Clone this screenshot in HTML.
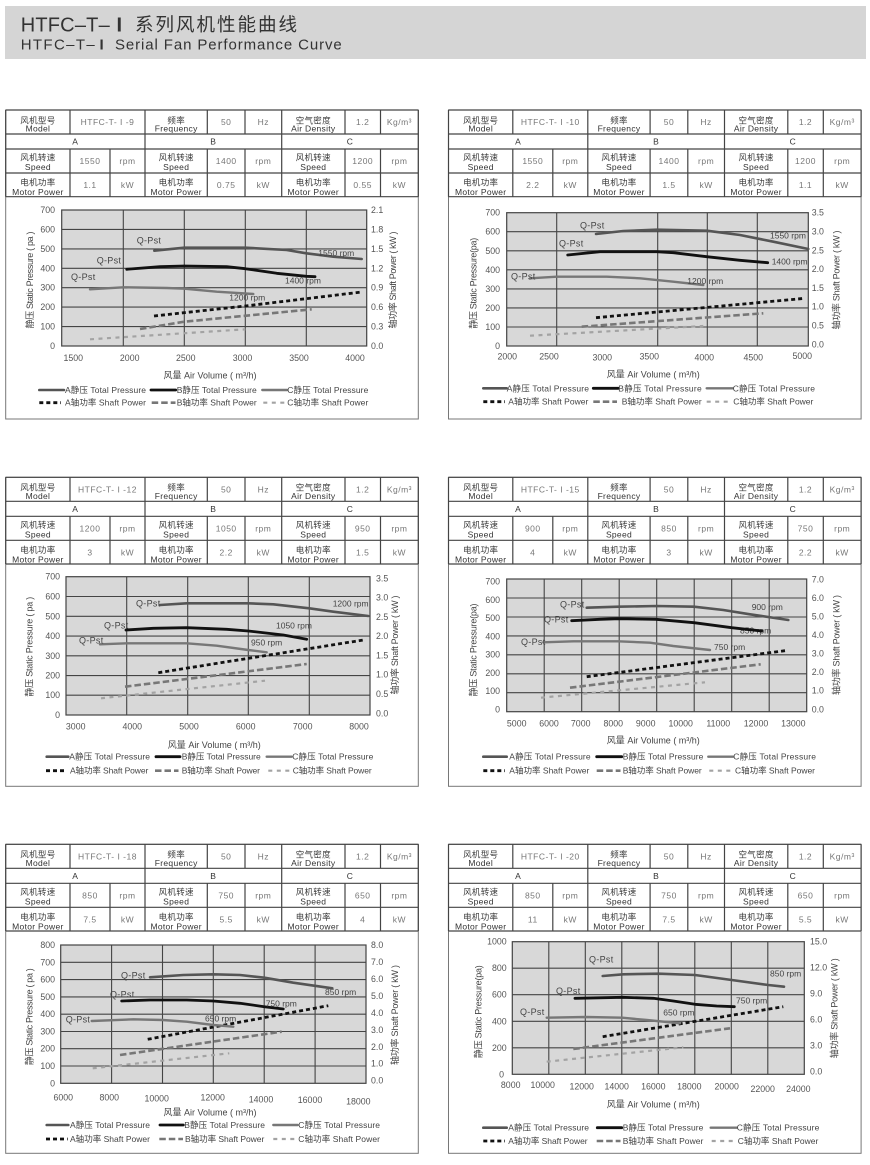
<!DOCTYPE html>
<html><head><meta charset="utf-8">
<style>
html,body{margin:0;padding:0;background:#fff;}
svg{display:block}
svg text{font-family:"Liberation Sans","Noto Sans CJK SC",sans-serif;}
.cn{font-size:8.5px;fill:#3a3a3a;text-anchor:middle;letter-spacing:.3px}
.en{font-size:8.5px;fill:#333;text-anchor:middle;letter-spacing:.3px}
.v{font-size:8.5px;fill:#777;text-anchor:middle;letter-spacing:.5px}
.tl{font-size:8.8px;fill:#555;text-anchor:end}
.tr{font-size:8.8px;fill:#555}
.tx{font-size:8.8px;fill:#555;text-anchor:middle}
.at{font-size:9px;fill:#444;text-anchor:middle}
.lg{font-size:8.5px;fill:#444}
.ql{font-size:9px;fill:#444;letter-spacing:.3px}
.rp{font-size:8.5px;fill:#444}
.grid{stroke:#444;stroke-width:1.1;fill:none}
.plot{fill:#d8d8d8;stroke:#444;stroke-width:1.2}
.tb{stroke:#444;stroke-width:1.2;fill:none}
.box{stroke:#777;stroke-width:1;fill:none}
.cA{stroke:#555;stroke-width:2.6;fill:none;stroke-linecap:round;stroke-linejoin:round}
.cB{stroke:#111;stroke-width:2.8;fill:none;stroke-linecap:round;stroke-linejoin:round}
.cC{stroke:#777;stroke-width:2.4;fill:none;stroke-linecap:round;stroke-linejoin:round}
.sA{stroke:#111;stroke-width:2.8;fill:none;stroke-dasharray:4 3}
.sB{stroke:#777;stroke-width:2.6;fill:none;stroke-dasharray:6.5 3}
.sC{stroke:#a3a3a3;stroke-width:2.2;fill:none;stroke-dasharray:4 4.5}
</style></head>
<body>
<svg width="870" height="1165" viewBox="0 0 870 1165" xmlns="http://www.w3.org/2000/svg">
<!-- Header -->
<rect x="5" y="6" width="861" height="53" fill="#d5d5d5"/>
<text x="20.7" y="31.5" font-size="20" fill="#333" textLength="89" lengthAdjust="spacing">HTFC–T–</text>
<text x="116.5" y="31.5" font-size="20" font-weight="bold" fill="#333">I</text>
<text x="135" y="31" font-size="18.5" fill="#333" textLength="162" lengthAdjust="spacing">系列风机性能曲线</text>
<text x="20.7" y="49.3" font-size="15" fill="#333" textLength="74" lengthAdjust="spacing">HTFC–T–</text>
<text x="99.5" y="49.3" font-size="15" font-weight="bold" fill="#333">I</text>
<text x="115" y="49.3" font-size="15" fill="#333" textLength="226.7" lengthAdjust="spacing">Serial  Fan Performance Curve</text>

<!-- Panel 1 table -->
<g transform="translate(0,110)">
<rect class="box" x="5.7" y="0" width="412.6" height="309"/>
<path class="tb" d="M5.7 0H418.3M5.7 24H418.3M5.7 39H418.3M5.7 63H418.3M5.7 86.7H418.3M70 0V24M70 39V86.7M110 39V86.7M145 0V86.7M207.3 0V24M207.3 39V86.7M245 0V24M245 39V86.7M281.7 0V86.7M345 0V24M345 39V86.7M380.5 0V24M380.5 39V86.7M5.7 0V86.7M418.3 0V86.7"/>
<text class="cn" x="37.9" y="13.3">风机型号</text><text class="en" x="37.9" y="21.5">Model</text>
<text class="v" x="107.5" y="15">HTFC-T- I -9</text>
<text class="cn" x="176.2" y="13.3">频率</text><text class="en" x="176.2" y="21.5">Frequency</text>
<text class="v" x="226.2" y="15">50</text><text class="v" x="263.3" y="15">Hz</text>
<text class="cn" x="313.3" y="13.3">空气密度</text><text class="en" x="313.3" y="21.5">Air Density</text>
<text class="v" x="362.7" y="15">1.2</text><text class="v" x="399.4" y="15">Kg/m³</text>
<text class="en" x="75.3" y="34.5">A</text><text class="en" x="213.3" y="34.5">B</text><text class="en" x="350" y="34.5">C</text>
<text class="cn" x="37.9" y="50.6">风机转速</text><text class="en" x="37.9" y="60">Speed</text>
<text class="v" x="90" y="54">1550</text><text class="v" x="127.5" y="54">rpm</text>
<text class="cn" x="176.2" y="50.6">风机转速</text><text class="en" x="176.2" y="60">Speed</text>
<text class="v" x="226.2" y="54">1400</text><text class="v" x="263.3" y="54">rpm</text>
<text class="cn" x="313.3" y="50.6">风机转速</text><text class="en" x="313.3" y="60">Speed</text>
<text class="v" x="362.7" y="54">1200</text><text class="v" x="399.4" y="54">rpm</text>
<text class="cn" x="37.9" y="75.6">电机功率</text><text class="en" x="37.9" y="85">Motor Power</text>
<text class="v" x="90" y="78">1.1</text><text class="v" x="127.5" y="78">kW</text>
<text class="cn" x="176.2" y="75.6">电机功率</text><text class="en" x="176.2" y="85">Motor Power</text>
<text class="v" x="226.2" y="78">0.75</text><text class="v" x="263.3" y="78">kW</text>
<text class="cn" x="313.3" y="75.6">电机功率</text><text class="en" x="313.3" y="85">Motor Power</text>
<text class="v" x="362.7" y="78">0.55</text><text class="v" x="399.4" y="78">kW</text>
</g>

<!-- Panel 2 table -->
<g transform="translate(442.8,110)">
<rect class="box" x="5.7" y="0" width="412.6" height="309"/>
<path class="tb" d="M5.7 0H418.3M5.7 24H418.3M5.7 39H418.3M5.7 63H418.3M5.7 86.7H418.3M70 0V24M70 39V86.7M110 39V86.7M145 0V86.7M207.3 0V24M207.3 39V86.7M245 0V24M245 39V86.7M281.7 0V86.7M345 0V24M345 39V86.7M380.5 0V24M380.5 39V86.7M5.7 0V86.7M418.3 0V86.7"/>
<text class="cn" x="37.9" y="13.3">风机型号</text><text class="en" x="37.9" y="21.5">Model</text>
<text class="v" x="107.5" y="15">HTFC-T- I -10</text>
<text class="cn" x="176.2" y="13.3">频率</text><text class="en" x="176.2" y="21.5">Frequency</text>
<text class="v" x="226.2" y="15">50</text><text class="v" x="263.3" y="15">Hz</text>
<text class="cn" x="313.3" y="13.3">空气密度</text><text class="en" x="313.3" y="21.5">Air Density</text>
<text class="v" x="362.7" y="15">1.2</text><text class="v" x="399.4" y="15">Kg/m³</text>
<text class="en" x="75.3" y="34.5">A</text><text class="en" x="213.3" y="34.5">B</text><text class="en" x="350" y="34.5">C</text>
<text class="cn" x="37.9" y="50.6">风机转速</text><text class="en" x="37.9" y="60">Speed</text>
<text class="v" x="90" y="54">1550</text><text class="v" x="127.5" y="54">rpm</text>
<text class="cn" x="176.2" y="50.6">风机转速</text><text class="en" x="176.2" y="60">Speed</text>
<text class="v" x="226.2" y="54">1400</text><text class="v" x="263.3" y="54">rpm</text>
<text class="cn" x="313.3" y="50.6">风机转速</text><text class="en" x="313.3" y="60">Speed</text>
<text class="v" x="362.7" y="54">1200</text><text class="v" x="399.4" y="54">rpm</text>
<text class="cn" x="37.9" y="75.6">电机功率</text><text class="en" x="37.9" y="85">Motor Power</text>
<text class="v" x="90" y="78">2.2</text><text class="v" x="127.5" y="78">kW</text>
<text class="cn" x="176.2" y="75.6">电机功率</text><text class="en" x="176.2" y="85">Motor Power</text>
<text class="v" x="226.2" y="78">1.5</text><text class="v" x="263.3" y="78">kW</text>
<text class="cn" x="313.3" y="75.6">电机功率</text><text class="en" x="313.3" y="85">Motor Power</text>
<text class="v" x="362.7" y="78">1.1</text><text class="v" x="399.4" y="78">kW</text>
</g>

<!-- Panel 3 table -->
<g transform="translate(0,477.3)">
<rect class="box" x="5.7" y="0" width="412.6" height="309"/>
<path class="tb" d="M5.7 0H418.3M5.7 24H418.3M5.7 39H418.3M5.7 63H418.3M5.7 86.7H418.3M70 0V24M70 39V86.7M110 39V86.7M145 0V86.7M207.3 0V24M207.3 39V86.7M245 0V24M245 39V86.7M281.7 0V86.7M345 0V24M345 39V86.7M380.5 0V24M380.5 39V86.7M5.7 0V86.7M418.3 0V86.7"/>
<text class="cn" x="37.9" y="13.3">风机型号</text><text class="en" x="37.9" y="21.5">Model</text>
<text class="v" x="107.5" y="15">HTFC-T- I -12</text>
<text class="cn" x="176.2" y="13.3">频率</text><text class="en" x="176.2" y="21.5">Frequency</text>
<text class="v" x="226.2" y="15">50</text><text class="v" x="263.3" y="15">Hz</text>
<text class="cn" x="313.3" y="13.3">空气密度</text><text class="en" x="313.3" y="21.5">Air Density</text>
<text class="v" x="362.7" y="15">1.2</text><text class="v" x="399.4" y="15">Kg/m³</text>
<text class="en" x="75.3" y="34.5">A</text><text class="en" x="213.3" y="34.5">B</text><text class="en" x="350" y="34.5">C</text>
<text class="cn" x="37.9" y="50.6">风机转速</text><text class="en" x="37.9" y="60">Speed</text>
<text class="v" x="90" y="54">1200</text><text class="v" x="127.5" y="54">rpm</text>
<text class="cn" x="176.2" y="50.6">风机转速</text><text class="en" x="176.2" y="60">Speed</text>
<text class="v" x="226.2" y="54">1050</text><text class="v" x="263.3" y="54">rpm</text>
<text class="cn" x="313.3" y="50.6">风机转速</text><text class="en" x="313.3" y="60">Speed</text>
<text class="v" x="362.7" y="54">950</text><text class="v" x="399.4" y="54">rpm</text>
<text class="cn" x="37.9" y="75.6">电机功率</text><text class="en" x="37.9" y="85">Motor Power</text>
<text class="v" x="90" y="78">3</text><text class="v" x="127.5" y="78">kW</text>
<text class="cn" x="176.2" y="75.6">电机功率</text><text class="en" x="176.2" y="85">Motor Power</text>
<text class="v" x="226.2" y="78">2.2</text><text class="v" x="263.3" y="78">kW</text>
<text class="cn" x="313.3" y="75.6">电机功率</text><text class="en" x="313.3" y="85">Motor Power</text>
<text class="v" x="362.7" y="78">1.5</text><text class="v" x="399.4" y="78">kW</text>
</g>

<!-- Panel 4 table -->
<g transform="translate(442.8,477.3)">
<rect class="box" x="5.7" y="0" width="412.6" height="309"/>
<path class="tb" d="M5.7 0H418.3M5.7 24H418.3M5.7 39H418.3M5.7 63H418.3M5.7 86.7H418.3M70 0V24M70 39V86.7M110 39V86.7M145 0V86.7M207.3 0V24M207.3 39V86.7M245 0V24M245 39V86.7M281.7 0V86.7M345 0V24M345 39V86.7M380.5 0V24M380.5 39V86.7M5.7 0V86.7M418.3 0V86.7"/>
<text class="cn" x="37.9" y="13.3">风机型号</text><text class="en" x="37.9" y="21.5">Model</text>
<text class="v" x="107.5" y="15">HTFC-T- I -15</text>
<text class="cn" x="176.2" y="13.3">频率</text><text class="en" x="176.2" y="21.5">Frequency</text>
<text class="v" x="226.2" y="15">50</text><text class="v" x="263.3" y="15">Hz</text>
<text class="cn" x="313.3" y="13.3">空气密度</text><text class="en" x="313.3" y="21.5">Air Density</text>
<text class="v" x="362.7" y="15">1.2</text><text class="v" x="399.4" y="15">Kg/m³</text>
<text class="en" x="75.3" y="34.5">A</text><text class="en" x="213.3" y="34.5">B</text><text class="en" x="350" y="34.5">C</text>
<text class="cn" x="37.9" y="50.6">风机转速</text><text class="en" x="37.9" y="60">Speed</text>
<text class="v" x="90" y="54">900</text><text class="v" x="127.5" y="54">rpm</text>
<text class="cn" x="176.2" y="50.6">风机转速</text><text class="en" x="176.2" y="60">Speed</text>
<text class="v" x="226.2" y="54">850</text><text class="v" x="263.3" y="54">rpm</text>
<text class="cn" x="313.3" y="50.6">风机转速</text><text class="en" x="313.3" y="60">Speed</text>
<text class="v" x="362.7" y="54">750</text><text class="v" x="399.4" y="54">rpm</text>
<text class="cn" x="37.9" y="75.6">电机功率</text><text class="en" x="37.9" y="85">Motor Power</text>
<text class="v" x="90" y="78">4</text><text class="v" x="127.5" y="78">kW</text>
<text class="cn" x="176.2" y="75.6">电机功率</text><text class="en" x="176.2" y="85">Motor Power</text>
<text class="v" x="226.2" y="78">3</text><text class="v" x="263.3" y="78">kW</text>
<text class="cn" x="313.3" y="75.6">电机功率</text><text class="en" x="313.3" y="85">Motor Power</text>
<text class="v" x="362.7" y="78">2.2</text><text class="v" x="399.4" y="78">kW</text>
</g>

<!-- Panel 5 table -->
<g transform="translate(0,844.3)">
<rect class="box" x="5.7" y="0" width="412.6" height="309"/>
<path class="tb" d="M5.7 0H418.3M5.7 24H418.3M5.7 39H418.3M5.7 63H418.3M5.7 86.7H418.3M70 0V24M70 39V86.7M110 39V86.7M145 0V86.7M207.3 0V24M207.3 39V86.7M245 0V24M245 39V86.7M281.7 0V86.7M345 0V24M345 39V86.7M380.5 0V24M380.5 39V86.7M5.7 0V86.7M418.3 0V86.7"/>
<text class="cn" x="37.9" y="13.3">风机型号</text><text class="en" x="37.9" y="21.5">Model</text>
<text class="v" x="107.5" y="15">HTFC-T- I -18</text>
<text class="cn" x="176.2" y="13.3">频率</text><text class="en" x="176.2" y="21.5">Frequency</text>
<text class="v" x="226.2" y="15">50</text><text class="v" x="263.3" y="15">Hz</text>
<text class="cn" x="313.3" y="13.3">空气密度</text><text class="en" x="313.3" y="21.5">Air Density</text>
<text class="v" x="362.7" y="15">1.2</text><text class="v" x="399.4" y="15">Kg/m³</text>
<text class="en" x="75.3" y="34.5">A</text><text class="en" x="213.3" y="34.5">B</text><text class="en" x="350" y="34.5">C</text>
<text class="cn" x="37.9" y="50.6">风机转速</text><text class="en" x="37.9" y="60">Speed</text>
<text class="v" x="90" y="54">850</text><text class="v" x="127.5" y="54">rpm</text>
<text class="cn" x="176.2" y="50.6">风机转速</text><text class="en" x="176.2" y="60">Speed</text>
<text class="v" x="226.2" y="54">750</text><text class="v" x="263.3" y="54">rpm</text>
<text class="cn" x="313.3" y="50.6">风机转速</text><text class="en" x="313.3" y="60">Speed</text>
<text class="v" x="362.7" y="54">650</text><text class="v" x="399.4" y="54">rpm</text>
<text class="cn" x="37.9" y="75.6">电机功率</text><text class="en" x="37.9" y="85">Motor Power</text>
<text class="v" x="90" y="78">7.5</text><text class="v" x="127.5" y="78">kW</text>
<text class="cn" x="176.2" y="75.6">电机功率</text><text class="en" x="176.2" y="85">Motor Power</text>
<text class="v" x="226.2" y="78">5.5</text><text class="v" x="263.3" y="78">kW</text>
<text class="cn" x="313.3" y="75.6">电机功率</text><text class="en" x="313.3" y="85">Motor Power</text>
<text class="v" x="362.7" y="78">4</text><text class="v" x="399.4" y="78">kW</text>
</g>

<!-- Panel 6 table -->
<g transform="translate(442.8,844.3)">
<rect class="box" x="5.7" y="0" width="412.6" height="309"/>
<path class="tb" d="M5.7 0H418.3M5.7 24H418.3M5.7 39H418.3M5.7 63H418.3M5.7 86.7H418.3M70 0V24M70 39V86.7M110 39V86.7M145 0V86.7M207.3 0V24M207.3 39V86.7M245 0V24M245 39V86.7M281.7 0V86.7M345 0V24M345 39V86.7M380.5 0V24M380.5 39V86.7M5.7 0V86.7M418.3 0V86.7"/>
<text class="cn" x="37.9" y="13.3">风机型号</text><text class="en" x="37.9" y="21.5">Model</text>
<text class="v" x="107.5" y="15">HTFC-T- I -20</text>
<text class="cn" x="176.2" y="13.3">频率</text><text class="en" x="176.2" y="21.5">Frequency</text>
<text class="v" x="226.2" y="15">50</text><text class="v" x="263.3" y="15">Hz</text>
<text class="cn" x="313.3" y="13.3">空气密度</text><text class="en" x="313.3" y="21.5">Air Density</text>
<text class="v" x="362.7" y="15">1.2</text><text class="v" x="399.4" y="15">Kg/m³</text>
<text class="en" x="75.3" y="34.5">A</text><text class="en" x="213.3" y="34.5">B</text><text class="en" x="350" y="34.5">C</text>
<text class="cn" x="37.9" y="50.6">风机转速</text><text class="en" x="37.9" y="60">Speed</text>
<text class="v" x="90" y="54">850</text><text class="v" x="127.5" y="54">rpm</text>
<text class="cn" x="176.2" y="50.6">风机转速</text><text class="en" x="176.2" y="60">Speed</text>
<text class="v" x="226.2" y="54">750</text><text class="v" x="263.3" y="54">rpm</text>
<text class="cn" x="313.3" y="50.6">风机转速</text><text class="en" x="313.3" y="60">Speed</text>
<text class="v" x="362.7" y="54">650</text><text class="v" x="399.4" y="54">rpm</text>
<text class="cn" x="37.9" y="75.6">电机功率</text><text class="en" x="37.9" y="85">Motor Power</text>
<text class="v" x="90" y="78">11</text><text class="v" x="127.5" y="78">kW</text>
<text class="cn" x="176.2" y="75.6">电机功率</text><text class="en" x="176.2" y="85">Motor Power</text>
<text class="v" x="226.2" y="78">7.5</text><text class="v" x="263.3" y="78">kW</text>
<text class="cn" x="313.3" y="75.6">电机功率</text><text class="en" x="313.3" y="85">Motor Power</text>
<text class="v" x="362.7" y="78">5.5</text><text class="v" x="399.4" y="78">kW</text>
</g>

<!-- ===== CHART 1 ===== -->
<rect class="plot" x="61.7" y="210" width="305" height="136"/>
<path class="grid" d="M61.7 229.4H366.7M61.7 248.9H366.7M61.7 268.3H366.7M61.7 287.7H366.7M61.7 307.1H366.7M61.7 326.6H366.7M123.3 210V346M184.3 210V346M245.3 210V346M306.3 210V346"/>
<text class="tl" x="55" y="213">700</text><text class="tl" x="55" y="232.4">600</text><text class="tl" x="55" y="251.9">500</text><text class="tl" x="55" y="271.3">400</text><text class="tl" x="55" y="290.7">300</text><text class="tl" x="55" y="310.1">200</text><text class="tl" x="55" y="329.6">100</text><text class="tl" x="55" y="349">0</text>
<text class="tr" x="371" y="213">2.1</text><text class="tr" x="371" y="232.4">1.8</text><text class="tr" x="371" y="251.9">1.5</text><text class="tr" x="371" y="271.3">1.2</text><text class="tr" x="371" y="290.7">0.9</text><text class="tr" x="371" y="310.1">0.6</text><text class="tr" x="371" y="329.6">0.3</text><text class="tr" x="371" y="349">0.0</text>
<text class="tx" x="73.3" y="361">1500</text><text class="tx" x="129.7" y="361">2000</text><text class="tx" x="185.8" y="361">2500</text><text class="tx" x="242.5" y="361">3000</text><text class="tx" x="299" y="361">3500</text><text class="tx" x="355" y="361">4000</text>
<text class="at" x="210" y="378.7" textLength="93" lengthAdjust="spacing">风量 Air Volume ( m³/h)</text>
<text class="at" transform="translate(33,280) rotate(-90)" textLength="97" lengthAdjust="spacing">静压 Static Pressure ( pa )</text>
<text class="at" transform="translate(396,280) rotate(-90)" textLength="97" lengthAdjust="spacing">轴功率 Shaft Power ( kW )</text>
<polyline class="sC" points="90,339.3 245.3,329.3"/>
<polyline class="sB" points="140,329 184.3,321.7 311.7,309.3"/>
<polyline class="sA" points="154,316 245.3,306 361.7,292"/>
<polyline class="cC" points="90,289.3 123.3,287.3 166.7,288 184.3,288.7 216.7,291.7 253.3,294"/>
<polyline class="cB" points="126.7,269.3 160,266.7 184.3,266 226.7,266.7 245.3,268.7 276.7,273.3 306.3,276.3 315,276.7"/>
<polyline class="cA" points="154.3,250.7 184.3,247.7 245.3,247.7 286.7,250 306.3,253.3 333.3,256.7 361.7,259"/>
<text class="ql" x="136.7" y="243.3">Q-Pst</text><text class="ql" x="96.7" y="263.3">Q-Pst</text><text class="ql" x="71" y="280">Q-Pst</text>
<text class="rp" x="318.3" y="256">1550 rpm</text><text class="rp" x="285" y="283.3">1400 rpm</text><text class="rp" x="229.3" y="300.7">1200 rpm</text>
<line class="cA" x1="39.3" y1="390" x2="64" y2="390"/><text class="lg" x="65" y="393" textLength="81" lengthAdjust="spacing">A静压 Total Pressure</text>
<line class="cB" x1="151" y1="390" x2="175.7" y2="390"/><text class="lg" x="176.7" y="393" textLength="80" lengthAdjust="spacing">B静压 Total Pressure</text>
<line class="cC" x1="262.3" y1="390" x2="287.3" y2="390"/><text class="lg" x="287.3" y="393" textLength="81" lengthAdjust="spacing">C静压 Total Pressure</text>
<line class="sA" x1="39.3" y1="402.7" x2="61" y2="402.7"/><text class="lg" x="65" y="405.7" textLength="81" lengthAdjust="spacing">A轴功率 Shaft Power</text>
<line class="sB" x1="151.7" y1="402.7" x2="175.5" y2="402.7"/><text class="lg" x="176.7" y="405.7" textLength="80" lengthAdjust="spacing">B轴功率 Shaft Power</text>
<line class="sC" x1="263.3" y1="402.7" x2="285" y2="402.7"/><text class="lg" x="287.3" y="405.7" textLength="81" lengthAdjust="spacing">C轴功率 Shaft Power</text>

<!-- ===== CHART 2 ===== -->
<rect class="plot" x="506.7" y="212.7" width="301.6" height="133.3"/>
<path class="grid" d="M506.7 231.7H808.3M506.7 250.8H808.3M506.7 269.8H808.3M506.7 288.9H808.3M506.7 307.9H808.3M506.7 327H808.3M556.7 212.7V346M657.7 212.7V346M707.3 212.7V346M757.3 212.7V346"/>
<text class="tl" x="500" y="215.7">700</text><text class="tl" x="500" y="234.7">600</text><text class="tl" x="500" y="253.8">500</text><text class="tl" x="500" y="272.8">400</text><text class="tl" x="500" y="291.9">300</text><text class="tl" x="500" y="310.9">200</text><text class="tl" x="500" y="330">100</text><text class="tl" x="500" y="349">0</text>
<text class="tr" x="811.7" y="215.7">3.5</text><text class="tr" x="811.7" y="234.5">3.0</text><text class="tr" x="811.7" y="253.3">2.5</text><text class="tr" x="811.7" y="272.1">2.0</text><text class="tr" x="811.7" y="290.9">1.5</text><text class="tr" x="811.7" y="309.7">1.0</text><text class="tr" x="811.7" y="328.5">0.5</text><text class="tr" x="811.7" y="347.3">0.0</text>
<text class="tx" x="507.3" y="359.7">2000</text><text class="tx" x="549" y="359.7">2500</text><text class="tx" x="602.3" y="360.7">3000</text><text class="tx" x="649.3" y="359.7">3500</text><text class="tx" x="704.3" y="360.7">4000</text><text class="tx" x="753.3" y="360.7">4500</text><text class="tx" x="802.3" y="359">5000</text>
<text class="at" x="653.3" y="377.3" textLength="93" lengthAdjust="spacing">风量 Air Volume ( m³/h)</text>
<text class="at" transform="translate(476.3,283.3) rotate(-90)" textLength="91" lengthAdjust="spacing">静压 Static Pressure(pa)</text>
<text class="at" transform="translate(839.7,280) rotate(-90)" textLength="99" lengthAdjust="spacing">轴功率 Shaft Power ( kW )</text>
<polyline class="sC" points="530,335.7 703.3,326"/>
<polyline class="sB" points="581.7,326.7 763.3,313.3"/>
<polyline class="sA" points="596,317.7 805,298.3"/>
<polyline class="cC" points="530,278.3 556.7,276.7 606.7,276.7 640,278.3 673.3,281.7 703.3,285"/>
<polyline class="cB" points="567.7,255 600,251.7 656.7,251.7 673.3,252.7 706.7,256.7 740,260.3 767.7,262.7"/>
<polyline class="cA" points="596,234 623.3,231 656.7,229.7 706.7,230.7 740,235 773.3,241.7 808.3,249"/>
<text class="ql" x="580" y="228.3">Q-Pst</text><text class="ql" x="559" y="246.7">Q-Pst</text><text class="ql" x="511" y="279.3">Q-Pst</text>
<text class="rp" x="770" y="238.3">1550 rpm</text><text class="rp" x="771.7" y="264.3">1400 rpm</text><text class="rp" x="687.3" y="284">1200 rpm</text>
<line class="cA" x1="483.3" y1="388.3" x2="506.7" y2="388.3"/><text class="lg" x="506.7" y="391.3" textLength="82.3" lengthAdjust="spacing">A静压 Total Pressure</text>
<line class="cB" x1="593.3" y1="388.3" x2="618.3" y2="388.3"/><text class="lg" x="618.3" y="391.3" textLength="83.4" lengthAdjust="spacing">B静压 Total Pressure</text>
<line class="cC" x1="706.7" y1="388.3" x2="732.7" y2="388.3"/><text class="lg" x="732.7" y="391.3" textLength="82.3" lengthAdjust="spacing">C静压 Total Pressure</text>
<line class="sA" x1="483.3" y1="401.7" x2="505" y2="401.7"/><text class="lg" x="508.3" y="404.7" textLength="80" lengthAdjust="spacing">A轴功率 Shaft Power</text>
<line class="sB" x1="593.3" y1="401.7" x2="617" y2="401.7"/><text class="lg" x="621.7" y="404.7" textLength="80" lengthAdjust="spacing">B轴功率 Shaft Power</text>
<line class="sC" x1="706.7" y1="401.7" x2="728.3" y2="401.7"/><text class="lg" x="733.3" y="404.7" textLength="80" lengthAdjust="spacing">C轴功率 Shaft Power</text>

<!-- ===== CHART 3 ===== -->
<rect class="plot" x="66" y="576.7" width="304" height="138.3"/>
<path class="grid" d="M66 596.5H370M66 616.3H370M66 636.1H370M66 655.8H370M66 675.6H370M66 695.2H370M126.7 576.7V715M187.7 576.7V715M248.3 576.7V715M309.3 576.7V715"/>
<text class="tl" x="60" y="579.7">700</text><text class="tl" x="60" y="599.5">600</text><text class="tl" x="60" y="619.3">500</text><text class="tl" x="60" y="639.1">400</text><text class="tl" x="60" y="658.8">300</text><text class="tl" x="60" y="678.6">200</text><text class="tl" x="60" y="698.2">100</text><text class="tl" x="60" y="718">0</text>
<text class="tr" x="376" y="581.3">3.5</text><text class="tr" x="376" y="600.6">3.0</text><text class="tr" x="376" y="619.9">2.5</text><text class="tr" x="376" y="639.1">2.0</text><text class="tr" x="376" y="658.4">1.5</text><text class="tr" x="376" y="677.7">1.0</text><text class="tr" x="376" y="697">0.5</text><text class="tr" x="376" y="716.3">0.0</text>
<text class="tx" x="75.7" y="729.7">3000</text><text class="tx" x="132.3" y="729.7">4000</text><text class="tx" x="189" y="729.7">5000</text><text class="tx" x="245.7" y="729.7">6000</text><text class="tx" x="302.7" y="729.7">7000</text><text class="tx" x="359" y="729.7">8000</text>
<text class="at" x="214.3" y="748" textLength="93" lengthAdjust="spacing">风量 Air Volume ( m³/h)</text>
<text class="at" transform="translate(32.3,646.7) rotate(-90)" textLength="100" lengthAdjust="spacing">静压 Static Pressure ( pa )</text>
<text class="at" transform="translate(398,645) rotate(-90)" textLength="99" lengthAdjust="spacing">轴功率 Shaft Power ( kW )</text>
<polyline class="sC" points="101,698.3 265,680.7"/>
<polyline class="sB" points="125,686.7 306.7,664"/>
<polyline class="sA" points="158.3,672.7 363.3,640"/>
<polyline class="cC" points="100,644.3 126.7,643.3 186.7,643.3 216.7,645.7 248.3,650 266.7,652.3"/>
<polyline class="cB" points="126,630 153.3,628.3 186.7,627.7 226.7,629.3 248.3,631 283.3,635 306.7,639.3"/>
<polyline class="cA" points="160,605 186.7,603.3 248.3,603.3 273.3,604.3 309.3,608.3 333.3,611.7 368.3,616"/>
<text class="ql" x="136" y="606.7">Q-Pst</text><text class="ql" x="104" y="628.3">Q-Pst</text><text class="ql" x="79" y="643.3">Q-Pst</text>
<text class="rp" x="332.7" y="606.7">1200 rpm</text><text class="rp" x="276" y="628.3">1050 rpm</text><text class="rp" x="251" y="645.7">950 rpm</text>
<line class="cA" x1="46.7" y1="756.7" x2="68.3" y2="756.7"/><text class="lg" x="69.3" y="759.7" textLength="80.7" lengthAdjust="spacing">A静压 Total Pressure</text>
<line class="cB" x1="156" y1="756.7" x2="180" y2="756.7"/><text class="lg" x="181.7" y="759.7" textLength="79" lengthAdjust="spacing">B静压 Total Pressure</text>
<line class="cC" x1="266.7" y1="756.7" x2="291.7" y2="756.7"/><text class="lg" x="292.3" y="759.7" textLength="81" lengthAdjust="spacing">C静压 Total Pressure</text>
<line class="sA" x1="46" y1="770.7" x2="67" y2="770.7"/><text class="lg" x="70" y="773.7" textLength="78.3" lengthAdjust="spacing">A轴功率 Shaft Power</text>
<line class="sB" x1="155" y1="770.7" x2="178.5" y2="770.7"/><text class="lg" x="181.7" y="773.7" textLength="78.3" lengthAdjust="spacing">B轴功率 Shaft Power</text>
<line class="sC" x1="268.3" y1="770.7" x2="290" y2="770.7"/><text class="lg" x="292.7" y="773.7" textLength="79" lengthAdjust="spacing">C轴功率 Shaft Power</text>

<!-- ===== CHART 4 ===== -->
<rect class="plot" x="506.7" y="579" width="300" height="132.7"/>
<path class="grid" d="M506.7 598H806.7M506.7 617H806.7M506.7 635.9H806.7M506.7 654.8H806.7M506.7 673.8H806.7M506.7 692.7H806.7M544.2 579V711.7M581.7 579V711.7M619.2 579V711.7M656.7 579V711.7M694.2 579V711.7M731.7 579V711.7M769.2 579V711.7"/>
<text class="tl" x="500" y="584.7">700</text><text class="tl" x="500" y="602.9">600</text><text class="tl" x="500" y="621.2">500</text><text class="tl" x="500" y="639.4">400</text><text class="tl" x="500" y="657.7">300</text><text class="tl" x="500" y="675.9">200</text><text class="tl" x="500" y="694.1">100</text><text class="tl" x="500" y="712.3">0</text>
<text class="tr" x="811.7" y="582.3">7.0</text><text class="tr" x="811.7" y="600.9">6.0</text><text class="tr" x="811.7" y="619.4">5.0</text><text class="tr" x="811.7" y="638">4.0</text><text class="tr" x="811.7" y="656.6">3.0</text><text class="tr" x="811.7" y="675.1">2.0</text><text class="tr" x="811.7" y="693.7">1.0</text><text class="tr" x="811.7" y="712.3">0.0</text>
<text class="tx" x="516.7" y="726.3">5000</text><text class="tx" x="549" y="726.3">6000</text><text class="tx" x="580.7" y="726.3">7000</text><text class="tx" x="613.3" y="726.3">8000</text><text class="tx" x="645.7" y="726.3">9000</text><text class="tx" x="680.7" y="726.3">10000</text><text class="tx" x="718.3" y="726.3">11000</text><text class="tx" x="756" y="726.3">12000</text><text class="tx" x="793.3" y="726.3">13000</text>
<text class="at" x="653.3" y="743.7" textLength="93" lengthAdjust="spacing">风量 Air Volume ( m³/h)</text>
<text class="at" transform="translate(476.3,650) rotate(-90)" textLength="93" lengthAdjust="spacing">静压 Static Pressure(pa)</text>
<text class="at" transform="translate(839.7,645) rotate(-90)" textLength="100" lengthAdjust="spacing">轴功率 Shaft Power ( kW )</text>
<polyline class="sC" points="541,697.7 705,682.3"/>
<polyline class="sB" points="570,687.7 760.7,664.3"/>
<polyline class="sA" points="586.7,676.7 785,650.7"/>
<text class="rp" x="740" y="633.3">850 rpm</text>
<polyline class="cC" points="543.3,642.3 573.3,641.3 618.3,641.3 650,642.7 673.3,646 710,650"/>
<polyline class="cB" points="571.7,620.7 600,619.3 618.3,618.7 656,619.3 694,622.7 731.7,627.7 761.7,631"/>
<polyline class="cA" points="586.7,607.7 618.3,606.7 656.7,606 694,606.7 723.3,610 750,614.3 788.3,620"/>
<text class="ql" x="560" y="607.3">Q-Pst</text><text class="ql" x="544" y="622.3">Q-Pst</text><text class="ql" x="521" y="645">Q-Pst</text>
<text class="rp" x="751.7" y="610">900 rpm</text><text class="rp" x="714" y="650">750 rpm</text>
<line class="cA" x1="483.3" y1="756.7" x2="506.7" y2="756.7"/><text class="lg" x="509.3" y="759.7" textLength="81.3" lengthAdjust="spacing">A静压 Total Pressure</text>
<line class="cB" x1="596.7" y1="756.7" x2="621.7" y2="756.7"/><text class="lg" x="622.7" y="759.7" textLength="80.7" lengthAdjust="spacing">B静压 Total Pressure</text>
<line class="cC" x1="708.3" y1="756.7" x2="733.3" y2="756.7"/><text class="lg" x="733.3" y="759.7" textLength="82.7" lengthAdjust="spacing">C静压 Total Pressure</text>
<line class="sA" x1="483.3" y1="770.7" x2="505" y2="770.7"/><text class="lg" x="509.3" y="773.7" textLength="80" lengthAdjust="spacing">A轴功率 Shaft Power</text>
<line class="sB" x1="596.7" y1="770.7" x2="620.5" y2="770.7"/><text class="lg" x="622.7" y="773.7" textLength="79" lengthAdjust="spacing">B轴功率 Shaft Power</text>
<line class="sC" x1="709.3" y1="770.7" x2="731" y2="770.7"/><text class="lg" x="735" y="773.7" textLength="80" lengthAdjust="spacing">C轴功率 Shaft Power</text>

<!-- ===== CHART 5 ===== -->
<rect class="plot" x="60.7" y="945" width="305.3" height="138.3"/>
<path class="grid" d="M60.7 962.3H366M60.7 979.6H366M60.7 996.9H366M60.7 1014.2H366M60.7 1031.5H366M60.7 1048.7H366M60.7 1066H366M111.6 945V1083.3M162.5 945V1083.3M213.3 945V1083.3M264.2 945V1083.3M315.1 945V1083.3"/>
<text class="tl" x="55" y="948">800</text><text class="tl" x="55" y="965.3">700</text><text class="tl" x="55" y="982.6">600</text><text class="tl" x="55" y="999.9">500</text><text class="tl" x="55" y="1017.2">400</text><text class="tl" x="55" y="1034.5">300</text><text class="tl" x="55" y="1051.7">200</text><text class="tl" x="55" y="1069">100</text><text class="tl" x="55" y="1086.3">0</text>
<text class="tr" x="371" y="948">8.0</text><text class="tr" x="371" y="965">7.0</text><text class="tr" x="371" y="981.9">6.0</text><text class="tr" x="371" y="998.9">5.0</text><text class="tr" x="371" y="1015.8">4.0</text><text class="tr" x="371" y="1032.8">3.0</text><text class="tr" x="371" y="1049.8">2.0</text><text class="tr" x="371" y="1066.7">1.0</text><text class="tr" x="371" y="1083.7">0.0</text>
<text class="tx" x="63.3" y="1100.3">6000</text><text class="tx" x="109.3" y="1100.3">8000</text><text class="tx" x="156.7" y="1101.3">10000</text><text class="tx" x="212.7" y="1100.3">12000</text><text class="tx" x="261" y="1102.3">14000</text><text class="tx" x="310" y="1103">16000</text><text class="tx" x="358.3" y="1104.7">18000</text>
<text class="at" x="210" y="1115.3" textLength="93" lengthAdjust="spacing">风量 Air Volume ( m³/h)</text>
<text class="at" transform="translate(32.3,1016.7) rotate(-90)" textLength="97" lengthAdjust="spacing">静压 Static Pressure ( pa )</text>
<text class="at" transform="translate(398,1015) rotate(-90)" textLength="100" lengthAdjust="spacing">轴功率 Shaft Power ( kW )</text>
<polyline class="sC" points="92.7,1068.3 229.3,1053.3"/>
<polyline class="sB" points="120,1055 281.7,1031.7"/>
<polyline class="sA" points="147.7,1039.3 328.3,1005.7"/>
<polyline class="cC" points="91.7,1021 133.3,1019.3 162.7,1020 186.7,1021.7 213.3,1025 233.3,1026.7"/>
<polyline class="cB" points="121.7,1001 150,1000 186.7,1000 213.3,1001 240,1003.3 264.3,1006.7 283.3,1009"/>
<polyline class="cA" points="150,977.3 183.3,975 213.3,974.3 240,975 264.3,977.7 293.3,982.7 332.3,988.3"/>
<text class="ql" x="121" y="978.3">Q-Pst</text><text class="ql" x="110" y="997.3">Q-Pst</text><text class="ql" x="65.7" y="1022.3">Q-Pst</text>
<text class="rp" x="325" y="995">850 rpm</text><text class="rp" x="265.7" y="1006.7">750 rpm</text><text class="rp" x="205" y="1021.7">650 rpm</text>
<line class="cA" x1="46.7" y1="1125" x2="68.3" y2="1125"/><text class="lg" x="70" y="1128" textLength="80" lengthAdjust="spacing">A静压 Total Pressure</text>
<line class="cB" x1="160" y1="1125" x2="183.3" y2="1125"/><text class="lg" x="184.3" y="1128" textLength="80.7" lengthAdjust="spacing">B静压 Total Pressure</text>
<line class="cC" x1="273.3" y1="1125" x2="297.7" y2="1125"/><text class="lg" x="298.3" y="1128" textLength="81.7" lengthAdjust="spacing">C静压 Total Pressure</text>
<line class="sA" x1="46" y1="1139" x2="67.7" y2="1139"/><text class="lg" x="70" y="1142" textLength="80" lengthAdjust="spacing">A轴功率 Shaft Power</text>
<line class="sB" x1="159.3" y1="1139" x2="183" y2="1139"/><text class="lg" x="185" y="1142" textLength="79.3" lengthAdjust="spacing">B轴功率 Shaft Power</text>
<line class="sC" x1="273.3" y1="1139" x2="296" y2="1139"/><text class="lg" x="298.3" y="1142" textLength="81.7" lengthAdjust="spacing">C轴功率 Shaft Power</text>

<!-- ===== CHART 6 ===== -->
<rect class="plot" x="512.3" y="941.7" width="292" height="132.6"/>
<path class="grid" d="M512.3 968.2H804.3M512.3 994.7H804.3M512.3 1021.3H804.3M512.3 1047.8H804.3M548.8 941.7V1074.3M585.3 941.7V1074.3M621.8 941.7V1074.3M658.3 941.7V1074.3M694.8 941.7V1074.3M731.3 941.7V1074.3M767.8 941.7V1074.3"/>
<text class="tl" x="506.7" y="944.7">1000</text><text class="tl" x="506.7" y="971.2">800</text><text class="tl" x="506.7" y="997.7">600</text><text class="tl" x="506.7" y="1024.3">400</text><text class="tl" x="506.7" y="1050.8">200</text><text class="tl" x="504" y="1077.3">0</text>
<text class="tr" x="810" y="944.7">15.0</text><text class="tr" x="810" y="970.7">12.0</text><text class="tr" x="810" y="996.7">9.0</text><text class="tr" x="810" y="1022.7">6.0</text><text class="tr" x="810" y="1048.7">3.0</text><text class="tr" x="810" y="1074.7">0.0</text>
<text class="tx" x="510.7" y="1088">8000</text><text class="tx" x="542.7" y="1088">10000</text><text class="tx" x="581.7" y="1089.7">12000</text><text class="tx" x="616.7" y="1089.7">14000</text><text class="tx" x="653.3" y="1089.7">16000</text><text class="tx" x="689.3" y="1089.7">18000</text><text class="tx" x="726.7" y="1089.7">20000</text><text class="tx" x="762.7" y="1092">22000</text><text class="tx" x="798.3" y="1092">24000</text>
<text class="at" x="653.3" y="1107.3" textLength="93" lengthAdjust="spacing">风量 Air Volume ( m³/h)</text>
<text class="at" transform="translate(481.3,1011.7) rotate(-90)" textLength="93" lengthAdjust="spacing">静压 Static Pressure(pa)</text>
<text class="at" transform="translate(837.3,1008.3) rotate(-90)" textLength="100" lengthAdjust="spacing">轴功率 Shaft Power ( kW )</text>
<polyline class="sC" points="546.7,1061.7 683.3,1047.3"/>
<polyline class="sB" points="573.3,1049 730,1028.3"/>
<polyline class="sA" points="602.7,1036.7 783.3,1006.7"/>
<polyline class="cC" points="546.7,1017.7 585.7,1017 622.3,1017.7 646.7,1020 680,1023.3"/>
<polyline class="cB" points="575,998.3 622.3,997.3 653.3,998.3 673.3,1001 695,1004.3 716.7,1006 734.3,1006.7"/>
<polyline class="cA" points="602.7,976 623.3,974.3 659,973.7 695,975 731.7,980 768.3,985 784,986.7"/>
<text class="ql" x="589" y="962.3">Q-Pst</text><text class="ql" x="556" y="994">Q-Pst</text><text class="ql" x="520" y="1015">Q-Pst</text>
<text class="rp" x="770" y="976.7">850 rpm</text><text class="rp" x="736" y="1003.3">750 rpm</text><text class="rp" x="663.3" y="1015.7">650 rpm</text>
<line class="cA" x1="483.3" y1="1127.7" x2="506.7" y2="1127.7"/><text class="lg" x="508.3" y="1130.7" textLength="80.7" lengthAdjust="spacing">A静压 Total Pressure</text>
<line class="cB" x1="597.3" y1="1127.7" x2="621.7" y2="1127.7"/><text class="lg" x="622.7" y="1130.7" textLength="80.7" lengthAdjust="spacing">B静压 Total Pressure</text>
<line class="cC" x1="710.7" y1="1127.7" x2="736.7" y2="1127.7"/><text class="lg" x="736.7" y="1130.7" textLength="82.7" lengthAdjust="spacing">C静压 Total Pressure</text>
<line class="sA" x1="483.3" y1="1141" x2="505" y2="1141"/><text class="lg" x="508.3" y="1144" textLength="79.3" lengthAdjust="spacing">A轴功率 Shaft Power</text>
<line class="sB" x1="596.7" y1="1141" x2="620.5" y2="1141"/><text class="lg" x="622.7" y="1144" textLength="80.7" lengthAdjust="spacing">B轴功率 Shaft Power</text>
<line class="sC" x1="711.7" y1="1141" x2="733.3" y2="1141"/><text class="lg" x="737.7" y="1144" textLength="80.7" lengthAdjust="spacing">C轴功率 Shaft Power</text>
</svg>
</body></html>
